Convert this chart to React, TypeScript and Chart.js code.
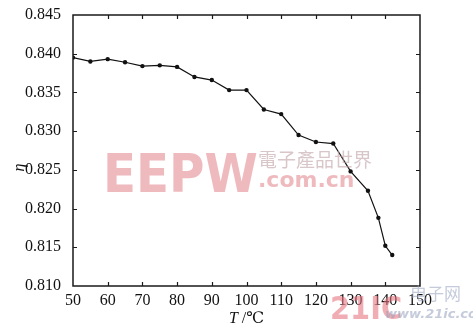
import React, { useEffect, useRef } from "react";
import { Chart, registerables } from "chart.js";
Chart.register(...registerables);

const temps = [50, 55, 60, 65, 70, 75, 80, 85, 90, 95, 100, 105, 110, 115, 120, 125, 130, 135, 138, 140, 142];
const eta = [0.8395, 0.839, 0.8393, 0.8389, 0.8384, 0.8385, 0.8383, 0.837, 0.8366, 0.8353, 0.8353, 0.8328, 0.8322, 0.8295, 0.8286, 0.8284, 0.8248, 0.8223, 0.8188, 0.8152, 0.814];
const xTicks = [50, 60, 70, 80, 90, 100, 110, 120, 130, 140, 150];
const yTicks = [0.81, 0.815, 0.82, 0.825, 0.83, 0.835, 0.84, 0.845];
const yTitle = "η";
const xTitleVar = "T";
const xTitleUnit = " /℃";

const SERIF = "'Liberation Serif', 'DejaVu Serif', serif";

const framePlugin = {
  id: "frame",
  afterDraw(chart: any) {
    const { ctx, chartArea: a, scales } = chart;
    const xs = scales.x, ys = scales.y;
    ctx.save();
    ctx.strokeStyle = "#1a1a1a";
    ctx.lineWidth = 1.5;
    ctx.strokeRect(a.left, a.top, a.right - a.left, a.bottom - a.top);
    const tl = 4;
    ctx.lineWidth = 1.2;
    ctx.beginPath();
    xTicks.forEach((v, i) => {
      if (i === 0 || i === xTicks.length - 1) return;
      const px = Math.round(xs.getPixelForValue(v)) + 0.5;
      ctx.moveTo(px, a.bottom);
      ctx.lineTo(px, a.bottom - tl);
      ctx.moveTo(px, a.top);
      ctx.lineTo(px, a.top + tl);
    });
    yTicks.forEach((v, i) => {
      if (i === 0 || i === yTicks.length - 1) return;
      const py = Math.round(ys.getPixelForValue(v)) + 0.5;
      ctx.moveTo(a.left, py);
      ctx.lineTo(a.left + tl, py);
      ctx.moveTo(a.right, py);
      ctx.lineTo(a.right - tl, py);
    });
    ctx.stroke();

    // axis titles
    ctx.fillStyle = "#111";
    ctx.textBaseline = "middle";
    const cx = (a.left + a.right) / 2;
    ctx.font = `italic 16px ${SERIF}`;
    const w1 = ctx.measureText(xTitleVar).width;
    ctx.font = `16px ${SERIF}`;
    const w2 = ctx.measureText(xTitleUnit).width;
    const start = cx - (w1 + w2) / 2;
    ctx.textAlign = "left";
    ctx.font = `italic 16px ${SERIF}`;
    ctx.fillText(xTitleVar, start, 319);
    ctx.font = `16px ${SERIF}`;
    ctx.fillText(xTitleUnit, start + w1, 319);

    ctx.save();
    ctx.translate(20, (a.top + a.bottom) / 2 + 17);
    ctx.rotate(-Math.PI / 2);
    ctx.textAlign = "center";
    ctx.font = `italic 16px ${SERIF}`;
    ctx.fillText(yTitle, 0, 0);
    ctx.restore();

    // watermarks
    ctx.textBaseline = "alphabetic";
    ctx.textAlign = "left";
    ctx.fillStyle = "rgba(226,140,146,0.6)";
    ctx.font = `bold 62px 'DejaVu Sans', sans-serif`;
    ctx.save();
    ctx.translate(103, 192);
    ctx.scale(0.78, 0.85);
    ctx.fillText("EEPW", 0, 0);
    ctx.restore();
    ctx.font = `bold 22px 'DejaVu Sans', sans-serif`;
    ctx.fillText(".com.cn", 258, 187);
    ctx.fillStyle = "rgba(190,160,165,0.6)";
    ctx.font = `19px 'Noto Sans CJK SC', sans-serif`;
    ctx.fillText("電子產品世界", 258, 167);
    ctx.fillStyle = "rgba(230,120,130,0.6)";
    ctx.font = `bold 34px 'DejaVu Sans', sans-serif`;
    ctx.save();
    ctx.translate(330, 319);
    ctx.scale(0.85, 0.95);
    ctx.fillText("21IC", 0, 0);
    ctx.restore();
    ctx.fillStyle = "rgba(150,160,190,0.55)";
    ctx.font = `17px 'Noto Sans CJK SC', sans-serif`;
    ctx.fillText("电子网", 410, 300);
    ctx.font = `italic bold 13px 'DejaVu Sans', sans-serif`;
    ctx.fillText("www.21ic.com", 385, 318);
    ctx.restore();
  },
};

export default function App() {
  const ref = useRef<HTMLCanvasElement | null>(null);
  useEffect(() => {
    document.body.style.margin = "0";
    document.body.style.background = "#fff";
    const chart = new Chart(ref.current as HTMLCanvasElement, {
      type: "line",
      data: {
        datasets: [
          {
            data: temps.map((t, i) => ({ x: t, y: eta[i] })),
            borderColor: "#111",
            backgroundColor: "#111",
            borderWidth: 1.2,
            pointRadius: 2.2,
            pointBorderWidth: 0,
            tension: 0,
          },
        ],
      },
      options: {
        animation: false,
        responsive: false,
        layout: { padding: { top: 15, right: 53, left: 0, bottom: 0 } },
        plugins: { legend: { display: false }, tooltip: { enabled: false } },
        scales: {
          x: {
            type: "linear",
            min: 50,
            max: 150,
            afterBuildTicks: (s: any) => {
              s.ticks = xTicks.map((v) => ({ value: v }));
            },
            afterFit: (s: any) => {
              s.height = 46;
            },
            grid: { display: false },
            border: { display: false },
            ticks: {
              color: "#111",
              padding: -3,
              maxRotation: 0,
              autoSkip: false,
              font: { family: SERIF, size: 16 },
              callback: (v: any) => String(v),
            },
          },
          y: {
            type: "linear",
            min: 0.81,
            max: 0.845,
            afterBuildTicks: (s: any) => {
              s.ticks = yTicks.map((v) => ({ value: v }));
            },
            afterFit: (s: any) => {
              s.width = 73;
            },
            grid: { display: false },
            border: { display: false },
            ticks: {
              color: "#111",
              padding: 4,
              autoSkip: false,
              font: { family: SERIF, size: 16 },
              callback: (v: any) => Number(v).toFixed(3),
            },
          },
        },
      },
      plugins: [framePlugin],
    } as any);
    return () => chart.destroy();
  }, []);
  return <canvas ref={ref} width={473} height={332} style={{ display: "block" }} />;
}
